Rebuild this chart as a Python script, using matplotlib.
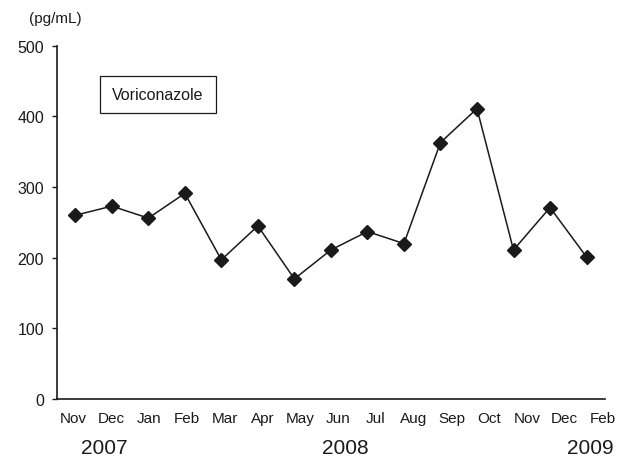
import numpy as np
import matplotlib
matplotlib.use("Agg")
import matplotlib.pyplot as plt
from matplotlib.patches import Rectangle

plt.rcParams['font.family'] = ['Liberation Sans', 'DejaVu Sans']

months = ['Nov', 'Dec', 'Jan', 'Feb', 'Mar', 'Apr', 'May', 'Jun', 'Jul', 'Aug',
          'Sep', 'Oct', 'Nov', 'Dec', 'Feb']
values = [260, 273, 256, 291, 197, 245, 170, 211, 237, 220, 363, 411, 211, 271, 201]
years = ['2007', '2008', '2009']
yticks = [0, 100, 200, 300, 400, 500]

x = np.arange(len(values))

fig = plt.figure(figsize=(6.3, 4.6), dpi=100)
ax = fig.add_axes([0.0905, 0.1304, 0.8695, 0.768])

ax.plot(x, values, '-', color='#1a1a1a', lw=1.1,
        marker='D', ms=7, mfc='#1a1a1a', mec='#1a1a1a')

ax.set_xlim(-0.5, 14.5)
ax.set_ylim(0, 500)
ax.set_yticks(yticks)
ax.tick_params(axis='y', direction='out', length=3.4, width=1.0, pad=6,
               labelsize=11.5, colors='#1a1a1a')
ax.set_xticks([])
for s in ['top', 'right']:
    ax.spines[s].set_visible(False)
for s in ['left', 'bottom']:
    ax.spines[s].set_linewidth(1.2)
    ax.spines[s].set_color('#1a1a1a')

# month labels are spaced a bit wider than the points in the original
lab_x = x * 1.035 - 0.05
for xi, m in zip(lab_x, months):
    ax.text(xi, -0.054, m, transform=ax.get_xaxis_transform(),
            ha='center', va='center', fontsize=11, color='#1a1a1a')

for xi, yr in zip([0.8, 7.4, 14.1], years):
    ax.text(xi, -0.136, yr, transform=ax.get_xaxis_transform(),
            ha='center', va='center', fontsize=15, color='#1a1a1a')

fig.text(55 / 630, 1 - 19 / 460, '(pg/mL)', ha='center', va='center',
         fontsize=11, color='#1a1a1a')

fig.add_artist(Rectangle((100 / 630, 1 - 113.7 / 460), 116 / 630, 36.4 / 460,
                         transform=fig.transFigure, fill=False,
                         ec='#1a1a1a', lw=0.9))
fig.text(158 / 630, 1 - 96 / 460, 'Voriconazole', ha='center', va='center',
         fontsize=11.5, color='#1a1a1a')

fig.savefig('out.png', dpi=100)
